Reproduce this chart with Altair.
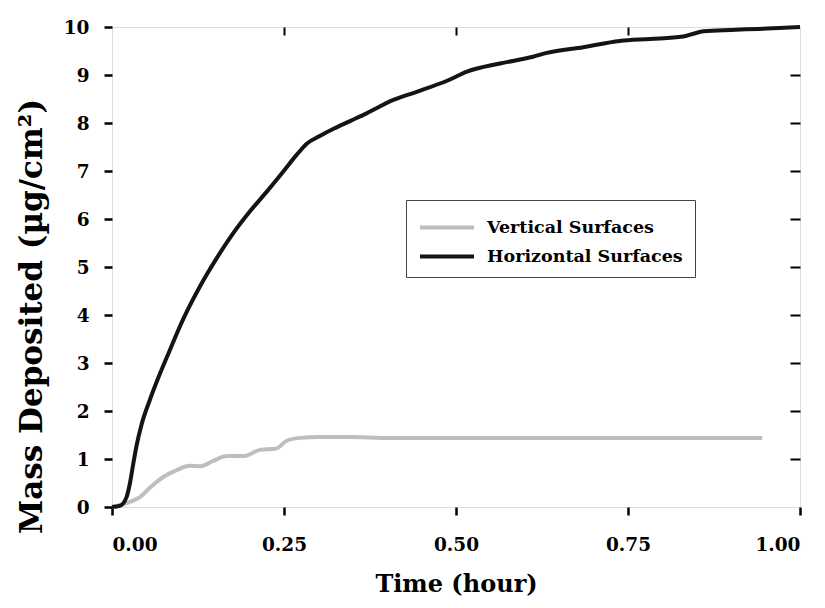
import altair as alt
import pandas as pd

# Horizontal surfaces (black)
h_t = [0, 0.012, 0.021, 0.026, 0.031, 0.036, 0.043, 0.055, 0.067, 0.080, 0.104, 0.128,
       0.152, 0.176, 0.200, 0.225, 0.249, 0.268, 0.283, 0.302, 0.322, 0.346, 0.370,
       0.409, 0.443, 0.487, 0.516, 0.564, 0.612, 0.632, 0.685, 0.738, 0.782, 0.830,
       0.845, 0.860, 0.900, 0.940, 0.970, 1.0]
h_v = [0, 0.03, 0.20, 0.49, 0.91, 1.30, 1.72, 2.23, 2.68, 3.13, 3.93, 4.60,
       5.18, 5.70, 6.15, 6.57, 6.99, 7.33, 7.57, 7.73, 7.88, 8.04, 8.20,
       8.48, 8.65, 8.88, 9.07, 9.24, 9.38, 9.46, 9.58, 9.71, 9.75, 9.80,
       9.86, 9.91, 9.94, 9.96, 9.98, 10.0]

# Vertical surfaces (gray)
g_t = [0, 0.021, 0.041, 0.055, 0.075, 0.094, 0.113, 0.128, 0.147, 0.167, 0.191,
       0.215, 0.239, 0.254, 0.273, 0.30, 0.346, 0.40, 0.945]
g_v = [0, 0.08, 0.21, 0.40, 0.63, 0.77, 0.86, 0.85, 0.96, 1.06, 1.06,
       1.19, 1.22, 1.38, 1.44, 1.46, 1.46, 1.44, 1.44]

series = ["Vertical Surfaces", "Horizontal Surfaces"]
colors = ["#bebebe", "#141414"]

df = pd.concat([
    pd.DataFrame({"t": g_t, "v": g_v, "s": series[0], "o": 0}),
    pd.DataFrame({"t": h_t, "v": h_v, "s": series[1], "o": 1}),
])

FONT = "DejaVu Serif"

xscale = alt.Scale(domain=[0, 1], nice=False)
yscale = alt.Scale(domain=[0, 10], nice=False)

lines = alt.Chart(df).mark_line(strokeWidth=4, interpolate="monotone").encode(
    x=alt.X("t:Q", scale=xscale,
            axis=alt.Axis(orient="bottom", values=[0, 0.25, 0.5, 0.75, 1.0], format=".2f",
                          title="Time (hour)", domain=False, grid=False,
                          tickSize=8, tickWidth=2.5, tickColor="black",
                          labelPadding=20, labelFontSize=18.5, labelFont=FONT,
                          labelFontWeight="bold", labelColor="black",
                          titleFont=FONT, titleFontSize=24, titleFontWeight="bold",
                          titleColor="black", titleBaseline="alphabetic", titleY=84)),
    y=alt.Y("v:Q", scale=yscale,
            axis=alt.Axis(orient="left", values=list(range(0, 11)),
                          title="Mass Deposited (µg/cm²)", domain=False, grid=False,
                          tickSize=8, tickWidth=2.5, tickColor="black",
                          labelPadding=15, labelFontSize=18.5, labelFont=FONT,
                          labelFontWeight="bold", labelColor="black",
                          titleFont=FONT, titleFontSize=31, titleFontWeight="bold",
                          titleColor="black", titleBaseline="alphabetic",
                          titleX=-71, titleY=289)),
    color=alt.Color("s:N", scale=alt.Scale(domain=series, range=colors),
                    legend=alt.Legend(title=None, orient="none", legendX=294, legendY=173,
                                      fillColor="white", strokeColor="#444444",
                                      padding=12, symbolType="M-1,0H3",
                                      symbolSize=729, symbolStrokeWidth=4,
                                      labelFont=FONT, labelFontSize=17.5,
                                      labelFontWeight="bold", labelColor="black",
                                      labelOffset=38, labelLimit=400, rowPadding=5)),
    order="o:Q",
    detail="s:N",
)

mirror = alt.Chart(df).mark_line(opacity=0).encode(
    x=alt.X("t:Q", scale=xscale,
            axis=alt.Axis(orient="top", values=[0.25, 0.5, 0.75], labels=False, title=None,
                          domain=False, grid=False, tickSize=8, tickWidth=2,
                          tickColor="black", offset=-8)),
    y=alt.Y("v:Q", scale=yscale,
            axis=alt.Axis(orient="right", values=list(range(1, 10)), labels=False, title=None,
                          domain=False, grid=False, tickSize=10, tickWidth=2,
                          tickColor="black", offset=-10)),
)

chart = alt.layer(lines, mirror).resolve_axis(x="independent", y="independent").properties(
    width=688, height=480,
    autosize=alt.AutoSizeParams(type="none"),
    padding={"left": 104, "top": 19, "right": 17, "bottom": 93},
).configure_view(stroke="black", strokeWidth=4).configure(background="white")

chart.save("out.html", embed_options={"renderer": "svg", "actions": False})
